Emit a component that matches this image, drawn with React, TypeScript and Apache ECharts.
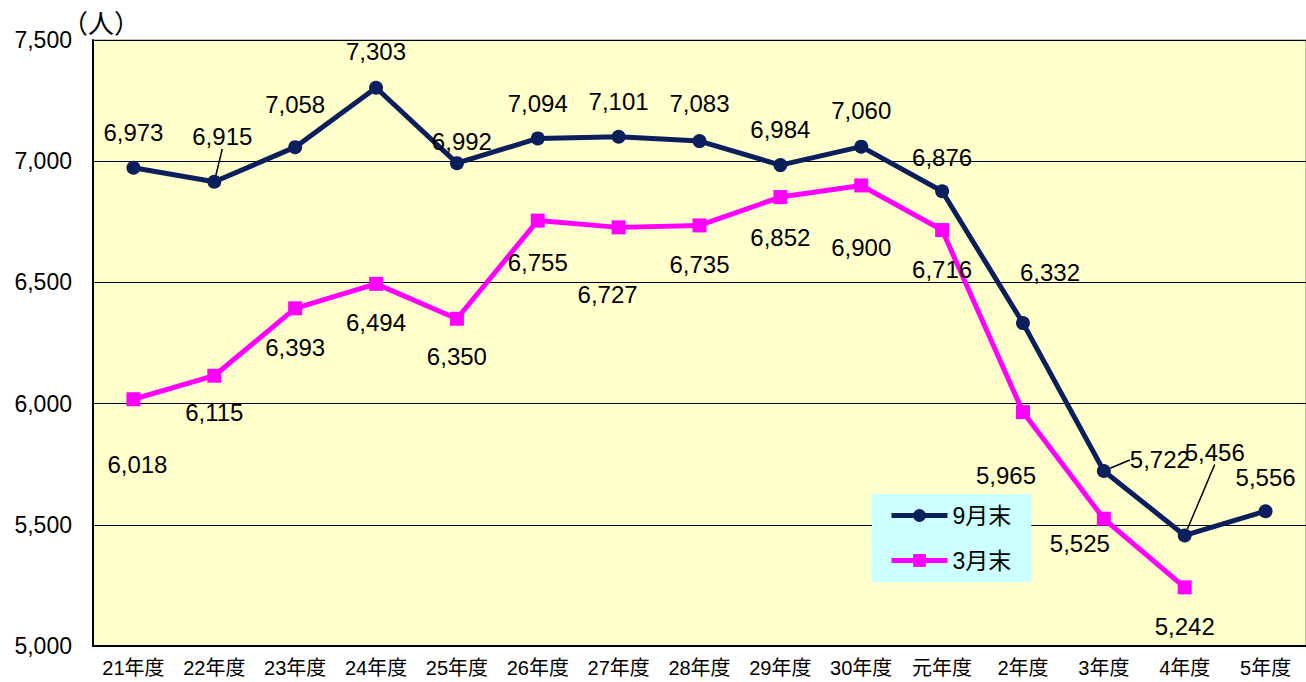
import React, { useEffect, useRef } from "react";
import * as echarts from "echarts";

const categories = ["21年度", "22年度", "23年度", "24年度", "25年度", "26年度", "27年度", "28年度", "29年度", "30年度", "元年度", "2年度", "3年度", "4年度", "5年度"];
const sepValues: (number | null)[] = [6973, 6915, 7058, 7303, 6992, 7094, 7101, 7083, 6984, 7060, 6876, 6332, 5722, 5456, 5556];
const marValues: (number | null)[] = [6018, 6115, 6393, 6494, 6350, 6755, 6727, 6735, 6852, 6900, 6716, 5965, 5525, 5242, null];
const yTicks = [5000, 5500, 6000, 6500, 7000, 7500];

// label offsets (dx, dy) from each point, in px
const sepLabelOffsets: [number, number][] = [
  [0, -35], [8, -45], [0, -43], [0, -36], [5, -22], [0, -35], [0, -35], [0, -38],
  [0, -36], [0, -36], [0, -34], [27, -51], [56, -11], [30, -83], [0, -34],
];
const marLabelOffsets: [number, number][] = [
  [4, 65], [0, 37], [0, 39], [0, 39], [0, 38], [0, 42], [-11, 67], [0, 39],
  [0, 40], [0, 62], [0, 39], [-17, 63], [-24, 25], [0, 39], [0, 0],
];
const sepGuides = [1, 12, 13];

const NAVY = "#0A1F5C";
const MAGENTA = "#FF00FF";
const FONT = "'Liberation Sans', 'Noto Sans CJK JP', sans-serif";

export default function App() {
  const ref = useRef<HTMLDivElement>(null);
  useEffect(() => {
    if (!ref.current) return;
    const chart = echarts.init(ref.current, null, { renderer: "svg" });
    const fmt = (v: number) => v.toLocaleString("en-US");
    chart.setOption({
      animation: false,
      textStyle: { fontFamily: FONT },
      grid: {
        left: 93, right: 0, top: 40, bottom: 36,
        show: true, backgroundColor: "#FFFFCC", borderColor: "#888888", borderWidth: 1,
      },
      legend: {
        left: 872, top: 494, orient: "vertical",
        backgroundColor: "#CCFFFF", padding: [10, 20, 10, 17],
        itemWidth: 56, itemHeight: 16, itemGap: 22,
        lineStyle: { width: 5 },
        textStyle: { fontSize: 23, color: "#000", fontFamily: FONT },
        data: ["9月末", "3月末"],
      },
      xAxis: {
        type: "category", data: categories, boundaryGap: true,
        axisLine: { lineStyle: { color: "#000", width: 2 } },
        axisTick: { inside: true, length: 5, lineStyle: { color: "#000" } },
        axisLabel: { fontSize: 20, color: "#000", margin: 12, interval: 0, fontFamily: FONT },
      },
      yAxis: {
        type: "value", min: yTicks[0], max: yTicks[yTicks.length - 1], interval: 500,
        axisLine: { show: true, lineStyle: { color: "#000", width: 2 } },
        axisTick: { show: false },
        splitLine: { lineStyle: { color: "#000", width: 1 } },
        axisLabel: { fontSize: 23, color: "#000", margin: 21, formatter: (v: number) => fmt(v), fontFamily: FONT },
      },
      graphic: [
        { type: "text", left: 62, top: 11, style: { text: "（人）", fontSize: 26, fill: "#000", fontFamily: FONT } },
      ],
      series: [
        {
          name: "9月末", type: "line", data: sepValues.map((v, i) => ({
            value: v,
            labelLine: { show: sepGuides.includes(i), lineStyle: { color: "#000", width: 1.5 } },
          })),
          color: NAVY, symbol: "circle", symbolSize: 14,
          lineStyle: { width: 5, color: NAVY }, itemStyle: { color: NAVY },
          label: { show: true, position: "inside", fontSize: 24, color: "#000", formatter: (p: any) => fmt(p.value), fontFamily: FONT },
          labelLayout: (p: any) => ({ dx: sepLabelOffsets[p.dataIndex][0], dy: sepLabelOffsets[p.dataIndex][1] }),
          z: 3,
        },
        {
          name: "3月末", type: "line", data: marValues,
          color: MAGENTA, symbol: "rect", symbolSize: 14,
          lineStyle: { width: 5, color: MAGENTA }, itemStyle: { color: MAGENTA },
          label: { show: true, position: "inside", fontSize: 24, color: "#000", formatter: (p: any) => fmt(p.value), fontFamily: FONT },
          labelLayout: (p: any) => ({ dx: marLabelOffsets[p.dataIndex][0], dy: marLabelOffsets[p.dataIndex][1] }),
          z: 2,
        },
      ],
    });
    return () => chart.dispose();
  }, []);
  return <div ref={ref} style={{ width: 1306, height: 682, position: "absolute", left: 0, top: 0 }} />;
}
